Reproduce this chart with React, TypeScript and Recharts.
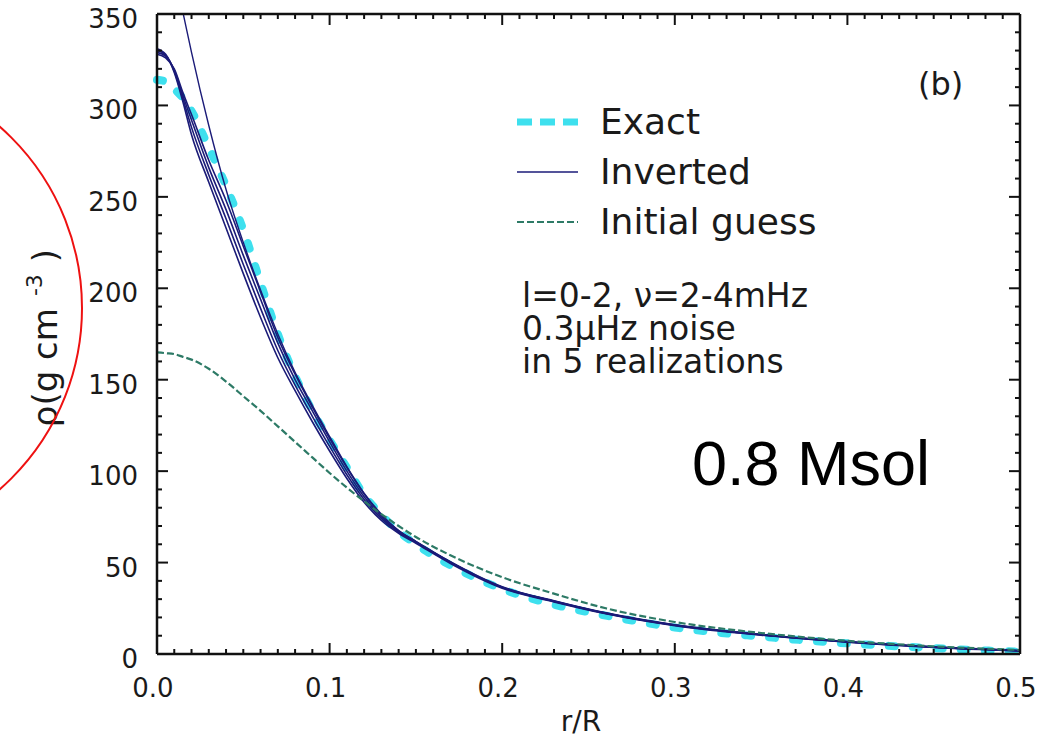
import React from "react";
import { LineChart, Line, XAxis, YAxis, Legend } from "recharts";

// r/R sample points shared by every curve
const radius = [0, 0.005, 0.01, 0.015, 0.02, 0.03, 0.04, 0.05, 0.06, 0.07, 0.08, 0.09, 0.1, 0.11, 0.12, 0.13, 0.14, 0.15, 0.17, 0.2, 0.23, 0.26, 0.3, 0.35, 0.4, 0.45, 0.5];

const exact = [314, 313, 309, 304, 297, 277, 256, 232, 203, 175, 152, 133, 117, 102, 87, 76, 67, 60, 48.5, 35.5, 27, 21, 14.5, 9.5, 5.8, 3.2, 1.2];
// five noisy realizations of the inversion
const inverted1 = [331, 328, 318, 302, 284, 258, 233, 208, 184, 162, 144, 127, 111, 96, 83, 73, 66, 60.5, 49.5, 36, 28.5, 22, 15.5, 10.3, 6.5, 3.6, 1.6];
const inverted2 = [330, 327.5, 318.7, 303.7, 288, 262, 238, 213, 189, 166, 147, 130, 113.5, 98, 84.5, 74, 66.5, 61, 50, 36.3, 28.7, 22.2, 15.7, 10.5, 6.6, 3.7, 1.7];
const inverted3 = [329, 327, 319.3, 305.3, 292, 266, 243, 218, 194, 170, 150, 133, 116, 100, 86, 75, 67, 61.3, 50.2, 36.5, 28.9, 22.3, 15.8, 10.6, 6.7, 3.8, 1.8];
const inverted4 = [328, 326, 320, 307, 295, 270, 248, 223, 198, 173, 153, 135, 118, 102, 87.5, 76, 67.5, 61.6, 50.5, 36.8, 29.1, 22.5, 16, 10.7, 6.8, 3.9, 1.9];
const inverted5 = [415, 394, 372, 351, 329, 289, 254, 225, 199, 175, 154, 136, 119, 102.5, 88, 76.5, 67.5, 61.5, 50.3, 36.6, 29, 22.4, 15.9, 10.6, 6.7, 3.8, 1.8];
const initialGuess = [165, 164.5, 164, 162.5, 161, 156, 149, 141, 133, 124.5, 116, 107.5, 99, 91, 83.5, 76.5, 70, 64, 54, 42, 33, 25, 17.5, 11.5, 7.2, 4.2, 2.2];

const xMajor = [0, 0.1, 0.2, 0.3, 0.4, 0.5];
const yMajor = [0, 50, 100, 150, 200, 250, 300, 350];

const legendOrder = ["exact", "inv1", "guess"];
const noteLines = ["l=0-2, ν=2-4mHz", "0.3μHz noise", "in 5 realizations"];

const CYAN = "#3ee0ee";
const NAVY = "#1b1b78";
const GREEN = "#2d7a66";
const FONT = "DejaVu Sans";

const data = radius.map((r, i) => ({
  r,
  exact: exact[i],
  inv1: inverted1[i],
  inv2: inverted2[i],
  inv3: inverted3[i],
  inv4: inverted4[i],
  inv5: inverted5[i],
  guess: initialGuess[i],
}));

// minor ticks: every 0.01 in r, every 10 in rho
const xTicks: number[] = [];
for (let i = 0; i <= 50; i++) xTicks.push(i / 100);
const yTicks: number[] = [];
for (let v = 0; v <= 350; v += 10) yTicks.push(v);

const isMajorX = (v: number) => xMajor.some((m) => Math.abs(m - v) < 1e-9);
const isMajorY = (v: number) => yMajor.includes(v);

const BottomTick = ({ x, y, payload }: any) => {
  const major = isMajorX(payload.value);
  return (
    <g>
      <line x1={x} x2={x} y1={y} y2={y - (major ? 11 : 5)} stroke="#111" strokeWidth={2} />
      {major && (
        <text x={x - 4} y={y + 43} textAnchor="middle" fontSize={26} fontFamily={FONT} fill="#1a1a1a">
          {payload.value.toFixed(1)}
        </text>
      )}
    </g>
  );
};

const TopTick = ({ x, y, payload }: any) => {
  const major = isMajorX(payload.value);
  return <line x1={x} x2={x} y1={y} y2={y + (major ? 11 : 5)} stroke="#111" strokeWidth={2} />;
};

const LeftTick = ({ x, y, payload }: any) => {
  const major = isMajorY(payload.value);
  return (
    <g>
      <line x1={x} x2={x + (major ? 11 : 5)} y1={y} y2={y} stroke="#111" strokeWidth={2} />
      {major && (
        <text x={x - 19} y={y + 14} textAnchor="end" fontSize={26} fontFamily={FONT} fill="#1a1a1a">
          {payload.value}
        </text>
      )}
    </g>
  );
};

const RightTick = ({ x, y, payload }: any) => {
  const major = isMajorY(payload.value);
  return <line x1={x} x2={x - (major ? 11 : 5)} y1={y} y2={y} stroke="#111" strokeWidth={2} />;
};

const legendStyles: Record<string, { stroke: string; width: number; dash?: string }> = {
  exact: { stroke: CYAN, width: 7, dash: "15 8" },
  inv1: { stroke: NAVY, width: 1.6 },
  guess: { stroke: GREEN, width: 2.2, dash: "7 3" },
};

const LegendBox = ({ payload }: any) => {
  const items = (payload || [])
    .filter((e: any) => legendOrder.includes(e.dataKey))
    .sort((a: any, b: any) => legendOrder.indexOf(a.dataKey) - legendOrder.indexOf(b.dataKey));
  return (
    <svg width={330} height={150}>
      {items.map((entry: any, i: number) => {
        const s = legendStyles[entry.dataKey];
        const base = 38 + i * 50;
        return (
          <g key={entry.dataKey}>
            <line x1={7} x2={68} y1={base - 12} y2={base - 12} stroke={s.stroke} strokeWidth={s.width} strokeDasharray={s.dash} />
            <text x={90} y={base} fontSize={36} fontFamily={FONT} fill="#1a1a1a">
              {entry.value}
            </text>
          </g>
        );
      })}
    </svg>
  );
};

const YTitle = () => (
  <text transform="translate(57,338) rotate(-90)" textAnchor="middle" fontSize={34} fontFamily={FONT} fill="#1a1a1a">
    ρ(g cm
    <tspan fontSize={22} dx={12} dy={-15}>-3</tspan>
    <tspan dx={12} dy={15}>)</tspan>
  </text>
);

const XTitle = () => (
  <text x={581} y={731} textAnchor="middle" fontSize={28} fontFamily={FONT} fill="#1a1a1a">
    r/R
  </text>
);

export default function App() {
  return (
    <div style={{ position: "absolute", left: 0, top: 0, width: 1051, height: 739, background: "#fff" }}>
      <LineChart width={1051} height={739} data={data} margin={{ top: 13, right: 30, bottom: 35, left: 57 }}>
        <XAxis
          xAxisId="b"
          type="number"
          dataKey="r"
          domain={[0, 0.5]}
          ticks={xTicks}
          interval={0}
          tickSize={0}
          tickMargin={0}
          tickLine={false}
          height={50}
          tick={BottomTick}
          axisLine={{ stroke: "#111", strokeWidth: 2.5 }}
          label={{ content: XTitle }}
        />
        <XAxis
          xAxisId="t"
          orientation="top"
          type="number"
          dataKey="r"
          domain={[0, 0.5]}
          ticks={xTicks}
          interval={0}
          tickSize={0}
          tickMargin={0}
          tickLine={false}
          height={1}
          tick={TopTick}
          axisLine={{ stroke: "#111", strokeWidth: 2.5 }}
        />
        <YAxis
          yAxisId="l"
          type="number"
          domain={[0, 350]}
          allowDataOverflow
          ticks={yTicks}
          interval={0}
          tickSize={0}
          tickMargin={0}
          tickLine={false}
          width={100}
          tick={LeftTick}
          axisLine={{ stroke: "#111", strokeWidth: 2.5 }}
          label={{ content: YTitle }}
        />
        <YAxis
          yAxisId="r"
          orientation="right"
          type="number"
          domain={[0, 350]}
          allowDataOverflow
          ticks={yTicks}
          interval={0}
          tickSize={0}
          tickMargin={0}
          tickLine={false}
          width={1}
          tick={RightTick}
          axisLine={{ stroke: "#111", strokeWidth: 2.5 }}
        />
        <Legend
          layout="vertical"
          align="center"
          verticalAlign="middle"
          content={LegendBox}
          wrapperStyle={{ left: 510, top: 96, width: 330, height: 150 }}
        />
        {/* exact and guess curves sit on the top/right axes (same scales) so the frame is drawn */}
        <Line xAxisId="t" yAxisId="r" type="monotone" dataKey="exact" name="Exact" stroke={CYAN} strokeWidth={8} strokeDasharray="6 18" strokeLinecap="round" dot={false} isAnimationActive={false} />
        <Line xAxisId="b" yAxisId="l" type="monotone" dataKey="inv1" name="Inverted" stroke={NAVY} strokeWidth={1.6} dot={false} isAnimationActive={false} />
        <Line xAxisId="b" yAxisId="l" type="monotone" dataKey="inv2" legendType="none" stroke={NAVY} strokeWidth={1.6} dot={false} isAnimationActive={false} />
        <Line xAxisId="b" yAxisId="l" type="monotone" dataKey="inv3" legendType="none" stroke={NAVY} strokeWidth={1.6} dot={false} isAnimationActive={false} />
        <Line xAxisId="b" yAxisId="l" type="monotone" dataKey="inv4" legendType="none" stroke={NAVY} strokeWidth={1.6} dot={false} isAnimationActive={false} />
        <Line xAxisId="b" yAxisId="l" type="monotone" dataKey="inv5" legendType="none" stroke={NAVY} strokeWidth={1.4} dot={false} isAnimationActive={false} />
        <Line xAxisId="t" yAxisId="r" type="monotone" dataKey="guess" name="Initial guess" stroke={GREEN} strokeWidth={2.2} strokeDasharray="7 3" dot={false} isAnimationActive={false} />
      </LineChart>
      <svg width={1051} height={739} style={{ position: "absolute", left: 0, top: 0, pointerEvents: "none" }}>
        <circle cx={-159} cy={308} r={241} fill="none" stroke="#ee1111" strokeWidth={2} />
        <text x={918} y={95} fontSize={32} fontFamily={FONT} fill="#1a1a1a">(b)</text>
        {noteLines.map((t, i) => (
          <text key={t} x={522} y={307 + i * 33} fontSize={33} fontFamily={FONT} fill="#1a1a1a">
            {t}
          </text>
        ))}
        <text x={692} y={485} fontSize={63} fontFamily="Liberation Sans" fill="#000">0.8 Msol</text>
      </svg>
    </div>
  );
}
